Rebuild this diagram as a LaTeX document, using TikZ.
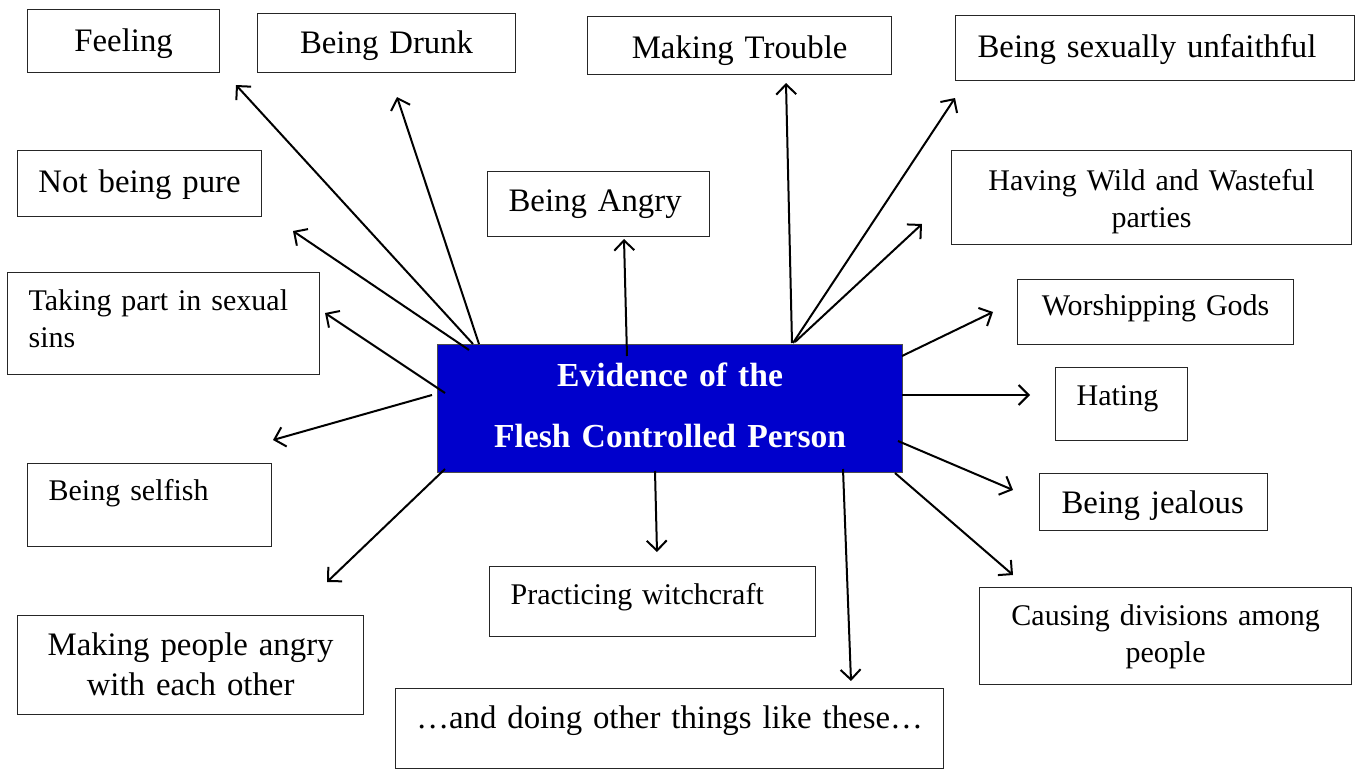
\documentclass[tikz,border=0pt]{standalone}
\usepackage{fontspec}
\setmainfont{Liberation Serif}
\usepackage{xcolor}
\usepackage{tikz}
\usetikzlibrary{arrows.meta,calc}
\definecolor{fleshblue}{RGB}{0,0,204}

\begin{document}
\begin{tikzpicture}[
    x=0.5pt, y=-0.5pt,
    box/.style={draw=black!85, line width=0.6pt, rectangle, anchor=north west, inner ysep=0pt},
    mid/.style={align=center, inner xsep=0pt},
    lft/.style={align=left, inner xsep=#1},
    big/.style={font=\fontsize{16.4pt}{20pt}\selectfont},
    small/.style={font=\fontsize{15pt}{18.5pt}\selectfont},
    arrow/.style={-{Straight Barb[length=5pt,width=10pt]}, line width=1pt}
]
    \useasboundingbox (0,0) rectangle (1362,771);

    % centre
    \node[box, mid, fill=fleshblue, draw=black!70, text=white,
          font=\bfseries\fontsize{16.8pt}{30.5pt}\selectfont,
          text width=232.5pt, text height=21pt, text depth=43pt] (ev) at (437,344)
          {Evidence of the\\Flesh Controlled Person};

    % top row
    \node[box, big, mid, text width=96pt, text height=21pt, text depth=10.5pt] (feel) at (27,9) {Feeling};
    \node[box, big, mid, text width=129pt, text height=20pt, text depth=9.5pt] (drunk) at (257,13) {Being Drunk};
    \node[box, big, mid, text width=152pt, text height=21pt, text depth=8pt] (trouble) at (587,16) {Making Trouble};
    \node[box, big, lft=11pt, text width=177.5pt, text height=21pt, text depth=11.5pt] (unfaith) at (955,15) {Being sexually unfaithful};

    % left side
    \node[box, big, mid, text width=122pt, text height=21pt, text depth=12pt] (impure) at (17,150) {Not being pure};
    \node[box, small, lft=10.5pt, text width=135pt, text height=19pt, text depth=32pt] (sins) at (7,272) {Taking part in sexual\\sins};
    \node[box, small, lft=10.5pt, text width=101pt, text height=18.5pt, text depth=23pt] (selfish) at (27,463) {Being selfish};
    \node[box, big, mid, text width=173pt, text height=20pt, text depth=29.5pt] (strife) at (17,615) {Making people angry\\with each other};

    % middle
    \node[box, big, lft=10.5pt, text width=90pt, text height=20pt, text depth=12.5pt] (angry) at (487,171) {Being Angry};
    \node[box, small, lft=10.5pt, text width=142pt, text height=19pt, text depth=16pt] (witch) at (489,566) {Practicing witchcraft};
    \node[box, big, mid, text width=274pt, text height=20pt, text depth=20pt] (others) at (395,688) {…and doing other things like these…};

    % right side
    \node[box, small, mid, text width=200pt, text height=20pt, text depth=27pt] (wild) at (951,150) {Having Wild and Wasteful\\parties};
    \node[box, small, mid, text width=138pt, text height=18pt, text depth=14.5pt] (gods) at (1017,279) {Worshipping Gods};
    \node[box, small, lft=10.5pt, text width=45pt, text height=19pt, text depth=17.5pt] (hate) at (1055,367) {Hating};
    \node[box, big, lft=11pt, text width=92pt, text height=20pt, text depth=8.5pt] (jealous) at (1039,473) {Being jealous};
    \node[box, small, mid, text width=186pt, text height=19pt, text depth=29.5pt] (divide) at (979,587) {Causing divisions among\\people};

    % arrow tips
    \coordinate (tfeel) at (236,85);
    \coordinate (tdrunk) at (397,97);
    \coordinate (timpure) at (293,231);
    \coordinate (tsins) at (325,313);
    \coordinate (tselfish) at (273,440);
    \coordinate (tstrife) at (327,582);
    \coordinate (tangry) at (624,239);
    \coordinate (twitch) at (657,552);
    \coordinate (tothers) at (851,681);
    \coordinate (ttrouble) at (786,83);
    \coordinate (tunfaith) at (955,98);
    \coordinate (twild) at (922,224);
    \coordinate (tgods) at (993,312);
    \coordinate (thate) at (1030,395);
    \coordinate (tjealous) at (1013,490);
    \coordinate (tdivide) at (1013,575);

    \draw[arrow] ($(ev.north west)+(32,6)$) -- (timpure);
    \draw[arrow] ($(ev.north west)+(36,0)$) -- (tfeel);
    \draw[arrow] ($(ev.north west)+(42,0)$) -- (tdrunk);
    \draw[arrow] ($(ev.north west)+(8,49)$) -- (tsins);
    \draw[arrow] ($(ev.north west)+(-5,51)$) -- (tselfish);
    \draw[arrow] ($(ev.north west)+(8,125)$) -- (tstrife);
    \draw[arrow] ($(ev.north west)+(190,12)$) -- (tangry);
    \draw[arrow] ($(ev.north west)+(218,127)$) -- (twitch);
    \draw[arrow] ($(ev.north west)+(406,125)$) -- (tothers);
    \draw[arrow] ($(ev.north west)+(355,-1)$) -- (ttrouble);
    \draw[arrow] ($(ev.north west)+(356,-1)$) -- (tunfaith);
    \draw[arrow] ($(ev.north west)+(358,-2)$) -- (twild);
    \draw[arrow] ($(ev.north west)+(465,12)$) -- (tgods);
    \draw[arrow] ($(ev.north west)+(465,51)$) -- (thate);
    \draw[arrow] ($(ev.north west)+(461,97)$) -- (tjealous);
    \draw[arrow] ($(ev.north west)+(458,129)$) -- (tdivide);
\end{tikzpicture}
\end{document}
